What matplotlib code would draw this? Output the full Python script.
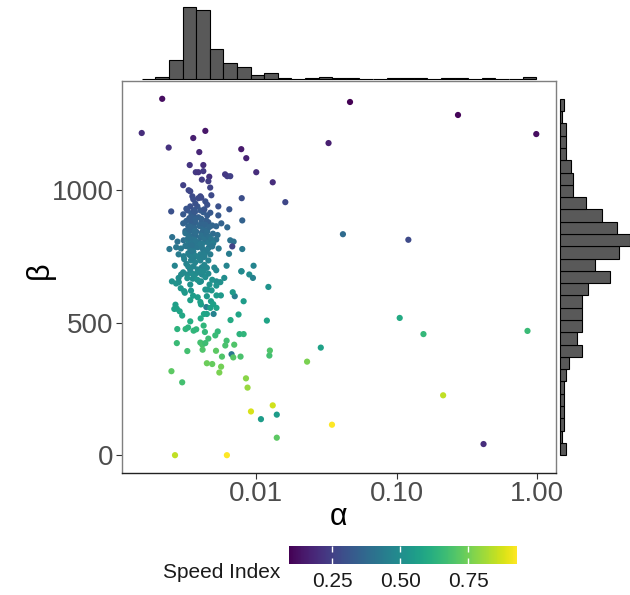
import numpy as np
import matplotlib
matplotlib.use("Agg")
import matplotlib.pyplot as plt
from matplotlib.colors import Normalize

plt.rcParams['font.family'] = ['Liberation Sans', 'DejaVu Sans']

# alpha / beta estimates per run, coloured by speed index
alpha = [
    0.00214, 0.00153, 0.00434, 0.00356, 0.00238, 0.00393, 0.00782, 0.00849, 0.00336, 0.00420,
    0.00371, 0.00387, 0.00420, 0.00463, 0.00456, 0.00622, 0.00653, 0.0100, 0.0131, 0.0161,
    0.00302, 0.00339, 0.00479, 0.00788, 0.00351, 0.00356, 0.00400, 0.00387, 0.00434, 0.00537,
    0.00643, 0.00248, 0.00302, 0.00323, 0.00339, 0.00356, 0.00381, 0.00400, 0.00420, 0.00356,
    0.00387, 0.00351, 0.00368, 0.00537, 0.00441, 0.00456, 0.00795, 0.00302, 0.00328, 0.00356,
    0.00400, 0.00486, 0.00519, 0.00564, 0.00622,
    0.00313, 0.00343, 0.00374, 0.00410, 0.00445, 0.00492, 0.00530, 0.00368, 0.00400, 0.00339,
    0.00445, 0.00252, 0.00275, 0.00304, 0.00331, 0.00358, 0.00395, 0.00434, 0.00471, 0.00519,
    0.00653, 0.00690, 0.00241, 0.00269, 0.00291, 0.00318, 0.00349, 0.00383, 0.00422, 0.00458,
    0.00540, 0.00675, 0.00795, 0.00280, 0.00304, 0.00336, 0.00358, 0.00390, 0.00427, 0.00471,
    0.00343, 0.00400, 0.00263, 0.00318, 0.00336, 0.00358, 0.00383, 0.00410, 0.00445, 0.00615,
    0.00786, 0.00957,
    0.00782, 0.00892, 0.00947, 0.00703, 0.00813, 0.0119, 0.00748, 0.00656, 0.00760, 0.00813,
    0.0124, 0.00667, 0.00773, 0.00249, 0.00445, 0.00486, 0.00562, 0.00546, 0.00517, 0.00570,
    0.00615, 0.00697, 0.00602, 0.00400, 0.00413, 0.00434, 0.00415, 0.00323, 0.00272, 0.00422,
    0.00431, 0.00314, 0.00327, 0.00358, 0.00274, 0.00532, 0.00511, 0.00402, 0.00424, 0.00445,
    0.00497, 0.00441, 0.00471, 0.00521, 0.00266, 0.00272, 0.00285, 0.00297, 0.00261, 0.00383,
    0.00400, 0.00404, 0.00476, 0.00445, 0.00521, 0.00560, 0.00481, 0.00434, 0.00451, 0.00307,
    0.00310, 0.00343, 0.00355, 0.00555, 0.00521, 0.00465, 0.00339, 0.00353, 0.00395, 0.00404,
    0.00251, 0.00269, 0.00281, 0.00292, 0.00280, 0.00322, 0.00349, 0.00378, 0.00410, 0.00422,
    0.00592, 0.00686,
    0.00313, 0.00323, 0.00334, 0.00345, 0.00356, 0.00362, 0.00360, 0.00366, 0.00370, 0.00406,
    0.00413, 0.00427, 0.00441, 0.00456, 0.00463, 0.00479, 0.00494, 0.00328, 0.00368, 0.00400,
    0.00318, 0.00334, 0.00345, 0.00362, 0.00355, 0.00365, 0.00393, 0.00406, 0.00420, 0.00434,
    0.00448, 0.00463, 0.00339, 0.00342,
    0.00313, 0.00328, 0.00339, 0.00351, 0.00362, 0.00357, 0.00347, 0.00400, 0.00413, 0.00434,
    0.00448, 0.00486, 0.00370,
    0.00318, 0.00334, 0.00345, 0.00362, 0.00357, 0.00366, 0.00406, 0.00427, 0.00448, 0.00368,
    0.00471,
    0.00368, 0.00406, 0.00448,
    0.00307, 0.00328, 0.00368, 0.00353, 0.00427, 0.00456, 0.00503,
    0.00302, 0.00323, 0.00339, 0.00362, 0.00381, 0.00400, 0.00434, 0.00456, 0.00486, 0.00519,
    0.00339, 0.00494,
    0.00339, 0.00456, 0.00374,
    0.00345, 0.00425, 0.00640, 0.00290, 0.00520, 0.00680, 0.0122, 0.00330, 0.00470, 0.00410,
    0.00600, 0.0125,
    0.0465, 0.273, 0.985, 0.0327, 0.0414, 0.121, 0.105, 0.155, 0.853, 0.0288,
    0.0230, 0.214, 0.0346, 0.415, 0.00297, 0.00845, 0.00867, 0.00917, 0.0131, 0.0108,
    0.0140, 0.0140, 0.00264, 0.00618,
]

beta = [
    1345, 1216, 1224, 1197, 1161, 1144, 1155, 1121, 1095, 1095,
    1068, 1068, 1072, 1051, 1034, 1053, 1053, 1068, 1030, 955,
    1019, 996, 981, 970, 977, 966, 977, 970, 958, 939,
    928, 920, 909, 924, 939, 920, 939, 924, 917, 902,
    898, 886, 879, 905, 886, 879, 886, 875, 864, 864,
    864, 867, 864, 875, 860,
    846, 849, 844, 840, 849, 836, 831, 827, 821, 821,
    821, 823, 806, 811, 798, 808, 802, 806, 795, 814,
    811, 806, 778, 785, 780, 789, 780, 785, 773, 783,
    780, 788, 778, 758, 751, 755, 745, 747, 751, 758,
    735, 735, 715, 722, 707, 713, 701, 709, 707, 715,
    694, 715,
    694, 682, 669, 600, 581, 508, 531, 510, 457, 457,
    376, 381, 372, 317, 347, 344, 334, 312, 394, 372,
    432, 417, 414, 425, 417, 423, 398, 393, 423, 489,
    465, 476, 482, 470, 476, 467, 452, 516, 533, 533,
    533, 559, 556, 556, 568, 553, 543, 527, 552, 596,
    578, 569, 581, 600, 603, 603, 622, 625, 625, 619,
    613, 621, 602, 653, 656, 644, 644, 666, 654, 656,
    656, 648, 653, 682, 669, 682, 686, 688, 682, 694,
    669, 369,
    838, 812, 830, 804, 826, 800, 817, 836, 808, 829,
    798, 818, 834, 803, 825, 815, 800, 820, 840, 797,
    884, 850, 872, 858, 880, 846, 866, 877, 853, 870,
    845, 861, 862, 887,
    790, 762, 778, 755, 785, 768, 792, 758, 781, 765,
    775, 788, 752,
    930, 895, 912, 925, 900, 918, 892, 928, 905, 890,
    915,
    950, 972, 945,
    740, 712, 728, 745, 718, 735, 708,
    690, 668, 700, 676, 662, 695, 672, 685, 662, 698,
    585, 570,
    505, 440, 475,
    770, 748, 760, 630, 640, 615, 635, 1000, 1010, 1040,
    1060, 395,
    1333, 1284, 1212, 1178, 834, 813, 518, 457, 469, 406,
    353, 226, 115, 42, 275, 290, 255, 165, 188, 136,
    153, 66, 0, 0,
]

speed = [
    .12, .20, .14, .16, .21, .18, .15, .17, .22, .20,
    .23, .22, .23, .21, .24, .24, .25, .20, .20, .27,
    .25, .27, .28, .29, .28, .29, .27, .28, .30, .30,
    .31, .30, .32, .31, .30, .32, .31, .32, .33, .33,
    .34, .33, .35, .32, .34, .34, .35, .35, .36, .35,
    .37, .36, .36, .35, .37,
    .37, .38, .37, .38, .37, .38, .39, .38, .39, .40,
    .38, .40, .40, .39, .41, .40, .41, .40, .42, .40,
    .41, .40, .42, .42, .43, .41, .43, .42, .43, .42,
    .43, .26, .43, .44, .45, .44, .45, .45, .44, .44,
    .46, .46, .47, .47, .48, .47, .48, .47, .48, .47,
    .49, .47,
    .49, .50, .46, .45, .55, .58, .58, .60, .63, .64,
    .68, .42, .69, .72, .74, .73, .75, .76, .72, .70,
    .68, .70, .69, .68, .69, .67, .70, .68, .66, .64,
    .65, .64, .63, .64, .63, .65, .66, .60, .59, .58,
    .46, .45, .57, .58, .56, .57, .58, .59, .57, .55,
    .56, .56, .55, .54, .55, .54, .53, .53, .52, .53,
    .54, .53, .55, .51, .50, .52, .51, .50, .51, .50,
    .51, .52, .51, .49, .50, .49, .50, .49, .48, .49,
    .50, .71,
    .41, .43, .40, .42, .39, .43, .41, .38, .42, .40,
    .44, .41, .39, .43, .40, .42, .44, .41, .39, .43,
    .35, .38, .36, .37, .35, .39, .37, .36, .38, .36,
    .39, .37, .37, .34,
    .42, .45, .43, .46, .42, .44, .41, .45, .43, .45,
    .44, .42, .46,
    .31, .34, .33, .31, .34, .32, .35, .31, .33, .35,
    .32,
    .30, .28, .30,
    .46, .48, .47, .45, .48, .46, .48,
    .49, .51, .48, .50, .52, .49, .50, .49, .51, .48,
    .56, .57,
    .61, .67, .64,
    .43, .45, .44, .53, .52, .54, .52, .27, .26, .24,
    .23, .70,
    .09, .10, .12, .16, .38, .28, .60, .65, .66, .57,
    .76, .85, .93, .20, .68, .78, .80, .88, .87, .55,
    .55, .72, .85, .93,
]

x_ticks = [0.01, 0.1, 1.0]
x_tick_labels = ['0.01', '0.10', '1.00']
y_ticks = [0, 500, 1000]
cbar_ticks = [0.25, 0.50, 0.75]
n_bins = 29

alpha = np.array(alpha)
beta = np.array(beta)
speed = np.array(speed)

W, H = 630, 595
fig = plt.figure(figsize=(W / 100, H / 100), dpi=100)

def box(x0, y0, x1, y1):
    # pixel box (top-left origin) -> figure fraction rect
    return [x0 / W, 1 - y1 / H, (x1 - x0) / W, (y1 - y0) / H]

ax = fig.add_axes(box(122, 81, 556, 473))
ax_top = fig.add_axes(box(122, 7, 556, 79), sharex=ax)
ax_right = fig.add_axes(box(560, 81, 630, 473), sharey=ax)
cax = fig.add_axes(box(289, 546, 517, 564))

norm = Normalize(vmin=speed.min(), vmax=speed.max())
sc = ax.scatter(alpha, beta, c=speed, cmap='viridis', norm=norm,
                s=20, linewidths=0, zorder=3)

ax.set_xscale('log')
lo, hi = np.log10(alpha.min()), np.log10(alpha.max())
pad = 0.05 * (hi - lo)
ax.set_xlim(10 ** (lo - pad), 10 ** (hi + pad))
ypad = 0.05 * (beta.max() - beta.min())
ax.set_ylim(beta.min() - ypad, beta.max() + ypad)

ax.set_xticks(x_ticks)
ax.set_xticklabels(x_tick_labels)
ax.xaxis.set_minor_locator(matplotlib.ticker.NullLocator())
ax.set_yticks(y_ticks)
ax.tick_params(length=4, width=0.8, color='#333333', labelsize=20,
               labelcolor='#4d4d4d', pad=2)

for side, sp in ax.spines.items():
    sp.set_color('#7f7f7f')
    sp.set_linewidth(1.0)
ax.spines['bottom'].set_color('#222222')

ax.set_xlabel('α', fontsize=22)
ax.xaxis.set_label_coords(0.5, -0.112)
ax.xaxis.label.set_va('center')
ax.set_ylabel('β', fontsize=22)
ax.yaxis.set_label_coords(-0.189, 0.518)
ax.yaxis.label.set_va('center')

# marginal histograms
edges = np.logspace(lo, hi, n_bins + 1)
counts, _, patches = ax_top.hist(alpha, bins=edges, color='#595959',
                                 edgecolor='black', linewidth=0.8)
for p in patches:
    p.set_clip_on(False)
ax_top.set_ylim(0, counts.max())
ax_top.axis('off')

rcounts, _, rpatches = ax_right.hist(beta, bins=n_bins, orientation='horizontal',
                                     color='#595959', edgecolor='black', linewidth=0.8)
for p in rpatches:
    p.set_clip_on(False)
ax_right.set_xlim(0, rcounts.max())
ax_right.axis('off')

# colour bar legend
cb = fig.colorbar(sc, cax=cax, orientation='horizontal')
cb.outline.set_visible(False)
cb.set_ticks(cbar_ticks)
cb.set_ticklabels(['%.2f' % t for t in cbar_ticks])
cax.tick_params(direction='in', color='white', length=4, width=1,
                top=True, bottom=True, labelsize=15, labelcolor='#1a1a1a', pad=6)
fig.text(163 / W, 1 - 573 / H, 'Speed Index', ha='left', va='center',
         fontsize=15, color='#1a1a1a')

fig.savefig('out.png', dpi=100)
